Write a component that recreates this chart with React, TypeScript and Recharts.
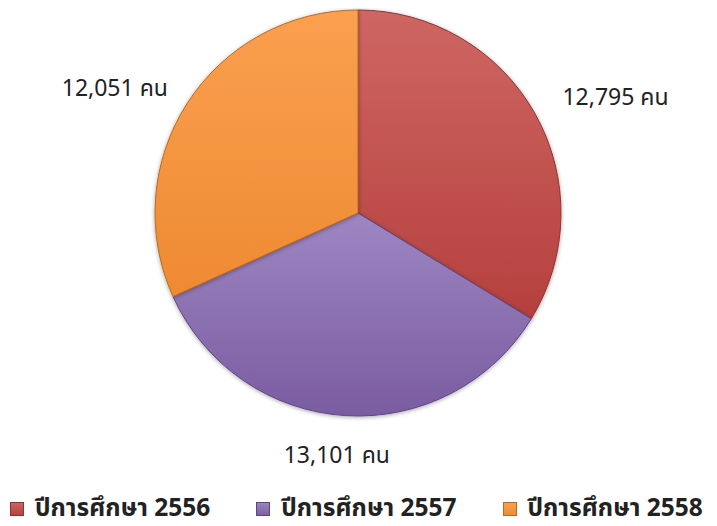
import React from 'react';
import { PieChart, Pie, Cell, Legend } from 'recharts';

const years = ['ปีการศึกษา 2556', 'ปีการศึกษา 2557', 'ปีการศึกษา 2558'];
const students = [12795, 13101, 12051];
const unitLabel = 'คน';

const COLORS = [
  { top: '#CF6663', bottom: '#B5403D', edge: '#8E3330' },
  { top: '#9E86C3', bottom: '#7A5CA0', edge: '#5C4680' },
  { top: '#FBA050', bottom: '#EE8A32', edge: '#B86A22' },
];

const FONT = 'Tahoma, "Leelawadee UI", "Noto Sans Thai", "Noto Sans", sans-serif';

const data = years.map((name, i) => ({ name, value: students[i] }));

const RADIAN = Math.PI / 180;

function renderLabel(props: any) {
  const { cx, cy, midAngle, outerRadius, value } = props;
  const r = outerRadius + 28;
  const cos = Math.cos(-midAngle * RADIAN);
  const sin = Math.sin(-midAngle * RADIAN);
  const anchor = Math.abs(cos) < 0.3 ? 'middle' : cos > 0 ? 'start' : 'end';
  const shift = anchor === 'middle' ? -7 : cos > 0 ? 3 : 4;
  const x = cx + r * cos + shift;
  const y = cy + r * sin + (sin > 0 ? 12 * sin : 4 * sin) + (anchor === 'end' ? 3 : 0);
  return (
    <text x={x} y={y} textAnchor={anchor} dominantBaseline="central"
      fill="#222" fontSize={23} fontFamily={FONT}>
      {value.toLocaleString('en-US')} {unitLabel}
    </text>
  );
}

function LegendContent() {
  return (
    <div style={{ display: 'flex', gap: 46, paddingLeft: 2, fontFamily: FONT, whiteSpace: 'nowrap', width: 709 }}>
      {years.map((y, i) => (
        <div key={y} style={{ display: 'flex', alignItems: 'center', gap: 11, flexShrink: 0 }}>
          <div style={{
            width: 14, height: 14, flexShrink: 0,
            background: `linear-gradient(180deg, ${COLORS[i].top}, ${COLORS[i].bottom})`,
            boxShadow: `inset 0 0 0 1px ${COLORS[i].edge}`,
          }} />
          <span style={{ fontSize: 24.5, lineHeight: '28px', fontWeight: 700, color: '#222' }}>{y}</span>
        </div>
      ))}
    </div>
  );
}

export default function App() {
  return (
    <div style={{ width: 709, height: 518, background: '#fff' }}>
      <PieChart width={709} height={518} margin={{ top: 0, right: 0, bottom: 0, left: 0 }}>
        <defs>
          {COLORS.map((c, i) => (
            <linearGradient key={i} id={`slice${i}`} x1="0" y1="0" x2="0" y2="1">
              <stop offset="0%" stopColor={c.top} />
              <stop offset="100%" stopColor={c.bottom} />
            </linearGradient>
          ))}
          <filter id="pieShadow" x="-10%" y="-10%" width="120%" height="120%">
            <feDropShadow dx="0" dy="1" stdDeviation="2" floodColor="#000" floodOpacity="0.35" />
          </filter>
        </defs>
        <Pie
          data={data}
          dataKey="value"
          nameKey="name"
          cx={350}
          cy={205}
          outerRadius={203}
          startAngle={90}
          endAngle={-270}
          label={renderLabel}
          labelLine={false}
          isAnimationActive={false}
          style={{ filter: 'url(#pieShadow)' }}
        >
          {data.map((d, i) => (
            <Cell key={d.name} fill={`url(#slice${i})`} stroke={COLORS[i].edge} strokeWidth={1} />
          ))}
        </Pie>
        <Legend
          verticalAlign="bottom"
          align="left"
          content={<LegendContent />}
          wrapperStyle={{ bottom: 3, left: 0, width: 709 }}
        />
      </PieChart>
    </div>
  );
}
